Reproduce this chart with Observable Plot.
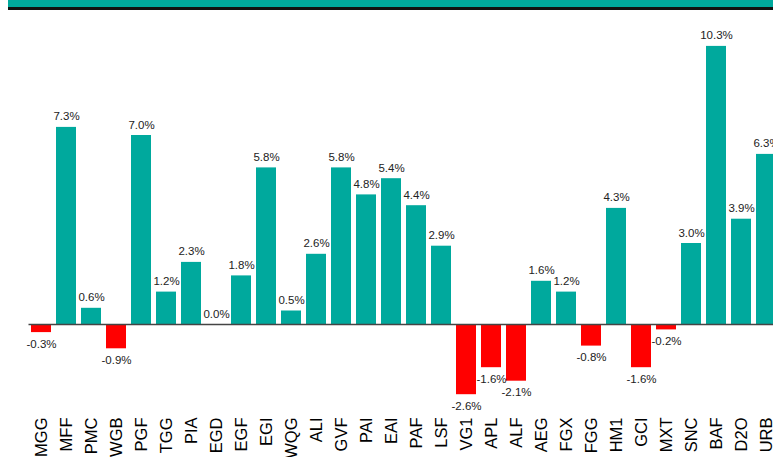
<!DOCTYPE html>
<html>
<head>
<meta charset="utf-8">
<script src="https://cdn.jsdelivr.net/npm/d3@7"></script>
<script src="https://cdn.jsdelivr.net/npm/@observablehq/plot@0.6"></script>
<style>
  html, body { margin: 0; padding: 0; background: #fff; overflow: hidden; width: 773px; height: 457px; }
  #banner { position: relative; margin-left: 8px; height: 7px; background: #00A99D; border-bottom: 3px solid #111; }
  #chart svg { display: block; }
</style>
</head>
<body>
<div id="banner"></div>
<div id="chart"></div>
<script>
const codes = ["MGG","MFF","PMC","WGB","PGF","TGG","PIA","EGD","EGF","EGI","WQG","ALI","GVF","PAI","EAI","PAF","LSF","VG1","APL","ALF","AEG","FGX","FGG","HM1","GCI","MXT","SNC","BAF","D2O","URB"];
const returns = [-0.3,7.3,0.6,-0.9,7.0,1.2,2.3,0.0,1.8,5.8,0.5,2.6,5.8,4.8,5.4,4.4,2.9,-2.6,-1.6,-2.1,1.6,1.2,-0.8,4.3,-1.6,-0.2,3.0,10.3,3.9,6.3];

const data = codes.map((c, i) => ({code: c, v: returns[i]}));
const POS = "#00A99D", NEG = "#FF0000";
const fmt = d => d.v.toFixed(1) + "%";

const chart = Plot.plot({
  width: 780,
  height: 447,
  marginLeft: 28.5,
  marginRight: 1.5,
  marginTop: 17,
  marginBottom: 52,
  style: {fontFamily: "'Liberation Sans', Arial, sans-serif", maxWidth: "none", background: "#fff", overflow: "visible"},
  x: {domain: codes, paddingInner: 0.2, paddingOuter: 0.1, label: null},
  y: {domain: [-3, 11], axis: null},
  marks: [
    Plot.barY(data, {x: "code", y: "v", fill: d => d.v < 0 ? NEG : POS}),
    Plot.ruleY([0], {stroke: "#444", strokeWidth: 1.5}),
    Plot.text(data.filter(d => d.v >= 0), {x: "code", y: "v", text: fmt, lineAnchor: "bottom", dy: -7, fontSize: 11.5, fill: "#222"}),
    Plot.text(data.filter(d => d.v < 0), {x: "code", y: "v", text: fmt, lineAnchor: "top", dy: 7, fontSize: 11.5, fill: "#222"}),
    Plot.axisX({tickSize: 0, tickPadding: 12, tickRotate: -90, fontSize: 16.5, fill: "#000", label: null, ariaLabel: "x-axis tick label"})
  ]
});
// stretch the glyph height of the rotated category labels, as in the reference
d3.select(chart).selectAll('g[aria-label="x-axis tick label"] text').each(function() {
  const t = this.getAttribute("transform") || "";
  this.setAttribute("transform", t + " scale(1,1.2)");
});
document.getElementById("chart").appendChild(chart);
</script>
</body>
</html>
